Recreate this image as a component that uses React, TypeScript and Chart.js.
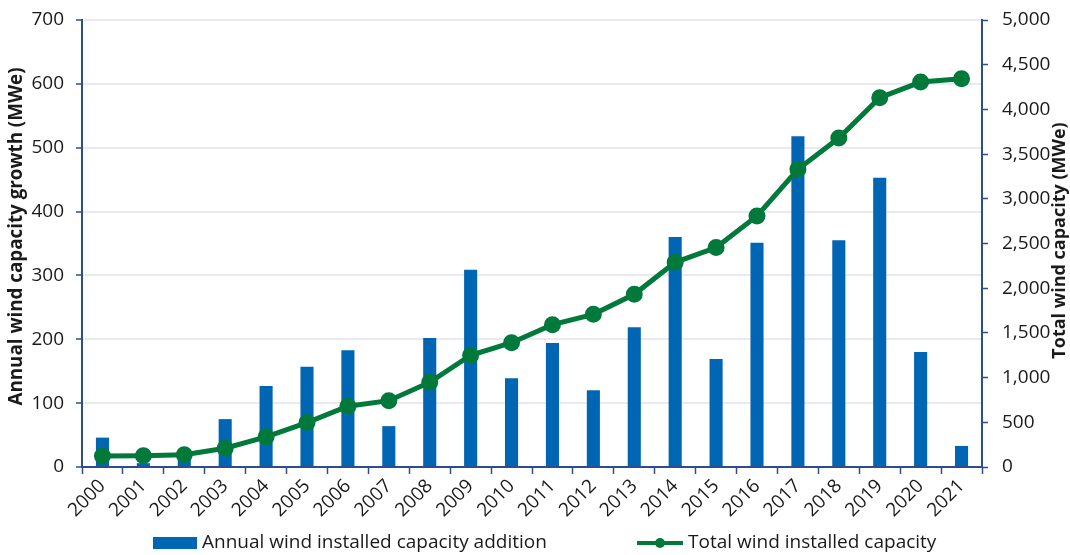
import React, { useEffect, useRef } from "react";
import { Chart, registerables } from "chart.js";

Chart.register(...registerables);

// Years on the category axis
const years = [
  "2000", "2001", "2002", "2003", "2004", "2005", "2006", "2007", "2008", "2009", "2010",
  "2011", "2012", "2013", "2014", "2015", "2016", "2017", "2018", "2019", "2020", "2021",
];

// Annual wind installed capacity addition (MWe), left axis
const annualAddition = [
  46, 6, 12, 75, 127, 157, 183, 64, 202, 309, 139,
  194, 120, 219, 360, 169, 351, 518, 355, 453, 180, 33,
];

// Total wind installed capacity (MWe), right axis
const totalCapacity = [
  123, 127, 138, 210, 338, 497, 680, 742, 947, 1250, 1390,
  1592, 1708, 1932, 2290, 2455, 2808, 3330, 3680, 4131, 4306, 4343,
];

const leftTitle = "Annual wind capacity growth (MWe)";
const rightTitle = "Total wind capacity (MWe)";
const barLabel = "Annual wind installed capacity addition";
const lineLabel = "Total wind installed capacity";

const BLUE = "#0066B3";
const GREEN = "#00793A";
const AXIS = "#2E4D8F";
const GRID = "#E8EAF0";
const TEXT = "#1A1A1A";
const FONT = "'Open Sans', 'Noto Sans', sans-serif";

// Vertical axis titles, both reading bottom-to-top
const axisTitlesPlugin = {
  id: "axisTitles",
  afterDraw(chart: any) {
    const { ctx, chartArea } = chart;
    const midY = (chartArea.top + chartArea.bottom) / 2;
    ctx.save();
    ctx.fillStyle = TEXT;
    ctx.font = `bold 18.8px ${FONT}`;
    ctx.textAlign = "center";
    ctx.textBaseline = "middle";
    ctx.translate(17, midY - 7);
    ctx.rotate(-Math.PI / 2);
    ctx.fillText(leftTitle, 0, 0);
    ctx.restore();

    ctx.save();
    ctx.fillStyle = TEXT;
    ctx.font = `bold 18px ${FONT}`;
    ctx.textAlign = "center";
    ctx.textBaseline = "middle";
    ctx.translate(chart.width - 10, midY - 3);
    ctx.rotate(-Math.PI / 2);
    ctx.fillText(rightTitle, 0, 0);
    ctx.restore();
  },
};

// Legend row under the category labels
const bottomLegendPlugin = {
  id: "bottomLegend",
  afterDraw(chart: any) {
    const { ctx, chartArea } = chart;
    const y = chart.height - 12;
    ctx.save();
    ctx.font = `19px ${FONT}`;
    ctx.textBaseline = "middle";
    ctx.fillStyle = TEXT;

    let x = chartArea.left + 71;
    ctx.fillStyle = BLUE;
    ctx.fillRect(x, y - 6, 44, 12);
    x += 49;
    ctx.fillStyle = TEXT;
    ctx.fillText(barLabel, x, y);

    x = chartArea.left + 555;
    ctx.strokeStyle = GREEN;
    ctx.lineWidth = 4;
    ctx.beginPath();
    ctx.moveTo(x, y);
    ctx.lineTo(x + 46, y);
    ctx.stroke();
    ctx.fillStyle = GREEN;
    ctx.beginPath();
    ctx.arc(x + 23, y, 5, 0, Math.PI * 2);
    ctx.fill();
    ctx.fillStyle = TEXT;
    ctx.fillText(lineLabel, x + 51, y);
    ctx.restore();
  },
};

// Keep the value axes from reserving extra room for their end labels
function fixValueAxis(width: number) {
  return (scale: any) => {
    scale.width = width;
    scale.paddingTop = 0;
    scale.paddingBottom = 0;
  };
}

export default function App() {
  const canvasRef = useRef<HTMLCanvasElement | null>(null);

  useEffect(() => {
    if (!canvasRef.current) return;
    const tickFont = { family: FONT, size: 19 };
    const chart = new Chart(canvasRef.current, {
      type: "bar",
      data: {
        labels: years,
        datasets: [
          {
            type: "line",
            label: lineLabel,
            data: totalCapacity,
            yAxisID: "y1",
            borderColor: GREEN,
            backgroundColor: GREEN,
            borderWidth: 5,
            pointRadius: 6,
            pointBackgroundColor: GREEN,
            pointBorderColor: GREEN,
            tension: 0,
            order: 1,
          } as any,
          {
            type: "bar",
            label: barLabel,
            data: annualAddition,
            yAxisID: "y",
            backgroundColor: BLUE,
            categoryPercentage: 1,
            barPercentage: 0.32,
            order: 2,
          },
        ],
      },
      options: {
        responsive: false,
        maintainAspectRatio: false,
        animation: false,
        layout: { padding: { top: 20, left: 0, right: 0, bottom: 0 } },
        plugins: {
          legend: { display: false },
          tooltip: { enabled: false },
        },
        scales: {
          x: {
            offset: true,
            grid: {
              offset: true,
              drawOnChartArea: false,
              drawTicks: true,
              tickLength: 7,
              tickColor: AXIS,
              tickWidth: 1.5,
            },
            border: { color: AXIS, width: 2 },
            ticks: {
              color: TEXT,
              font: tickFont,
              minRotation: 45,
              maxRotation: 45,
              autoSkip: false,
              padding: 1,
            },
            afterFit(scale: any) {
              scale.height = 88;
              scale.paddingLeft = 0;
              scale.paddingRight = 0;
            },
          },
          y: {
            position: "left",
            min: 0,
            max: 700,
            ticks: { stepSize: 100, color: TEXT, font: tickFont, padding: 12 },
            grid: {
              color: GRID,
              lineWidth: 2,
              tickColor: AXIS,
              tickLength: 6,
              tickWidth: 1.5,
            },
            border: { color: AXIS, width: 2 },
            afterFit: fixValueAxis(82),
          },
          y1: {
            position: "right",
            min: 0,
            max: 5000,
            ticks: {
              stepSize: 500,
              color: TEXT,
              font: tickFont,
              padding: 14,
              callback: (v: any) => Number(v).toLocaleString("en-US"),
            },
            grid: {
              drawOnChartArea: false,
              tickColor: AXIS,
              tickLength: 6,
              tickWidth: 1.5,
            },
            border: { color: AXIS, width: 2 },
            afterFit: fixValueAxis(88),
          },
        },
      },
      plugins: [axisTitlesPlugin, bottomLegendPlugin],
    });
    return () => chart.destroy();
  }, []);

  return (
    <div style={{ position: "absolute", left: 0, top: 0, width: 1070, height: 555, background: "#fff" }}>
      <canvas ref={canvasRef} width={1070} height={555} style={{ display: "block" }} />
    </div>
  );
}
